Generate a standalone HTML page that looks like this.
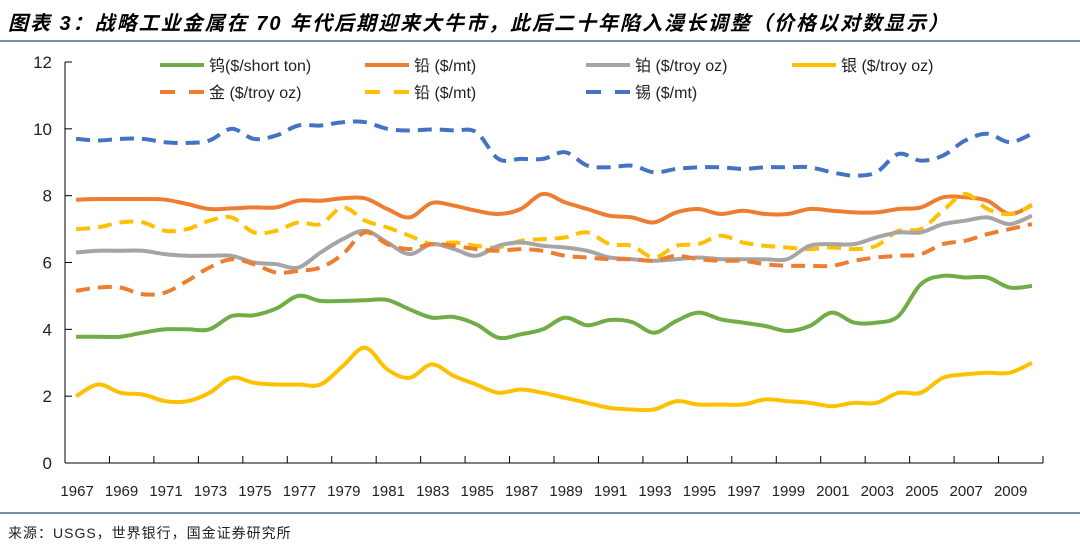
<!DOCTYPE html>
<html><head><meta charset="utf-8">
<style>
body{margin:0;background:#fff;width:1080px;height:553px;overflow:hidden;font-family:"Liberation Sans","Noto Sans CJK SC",sans-serif;}
#title{position:absolute;left:8px;top:7px;font-size:20px;letter-spacing:2px;font-weight:bold;font-style:italic;color:#000;font-family:"Liberation Sans","Noto Sans CJK SC",sans-serif;white-space:nowrap;}
#src{position:absolute;left:8px;top:523px;font-size:14px;letter-spacing:1px;color:#222;}
</style></head><body>
<div id="title">图表 3：战略工业金属在 70 年代后期迎来大牛市，此后二十年陷入漫长调整（价格以对数显示）</div>
<svg id="chart" width="1080" height="553" style="position:absolute;left:0;top:0"></svg>
<div id="src">来源：USGS，世界银行，国金证券研究所</div>
<script>
const years=[];for(let y=1967;y<=2010;y++)years.push(y);
const yTicks=[0,2,4,6,8,10,12];
const tungsten=[3.78,3.78,3.78,3.9,4.0,4.0,4.0,4.4,4.42,4.62,5.0,4.85,4.85,4.87,4.88,4.6,4.35,4.37,4.15,3.75,3.85,4.0,4.35,4.12,4.28,4.22,3.9,4.25,4.5,4.3,4.2,4.1,3.95,4.1,4.5,4.2,4.2,4.4,5.35,5.6,5.55,5.55,5.25,5.3];
const leadSolid=[7.88,7.9,7.9,7.9,7.88,7.75,7.6,7.62,7.65,7.65,7.85,7.85,7.92,7.92,7.6,7.35,7.78,7.7,7.55,7.45,7.6,8.05,7.8,7.6,7.4,7.35,7.2,7.5,7.6,7.45,7.55,7.45,7.45,7.6,7.55,7.5,7.5,7.6,7.65,7.95,7.95,7.85,7.45,7.72];
const platinum=[6.3,6.35,6.35,6.35,6.25,6.2,6.2,6.2,6.0,5.95,5.85,6.3,6.7,6.95,6.6,6.25,6.55,6.4,6.2,6.5,6.6,6.5,6.45,6.35,6.15,6.1,6.05,6.1,6.15,6.1,6.1,6.1,6.1,6.5,6.55,6.55,6.75,6.9,6.9,7.15,7.25,7.35,7.15,7.4];
const silver=[2.0,2.35,2.1,2.05,1.85,1.85,2.1,2.55,2.4,2.35,2.35,2.35,2.9,3.45,2.8,2.55,2.95,2.6,2.35,2.1,2.2,2.1,1.95,1.8,1.65,1.6,1.6,1.85,1.75,1.75,1.75,1.9,1.85,1.8,1.7,1.8,1.8,2.1,2.1,2.55,2.65,2.7,2.7,3.0];
const gold=[5.15,5.25,5.25,5.05,5.1,5.45,5.85,6.1,5.95,5.7,5.75,5.85,6.25,6.9,6.55,6.4,6.55,6.5,6.4,6.35,6.4,6.35,6.2,6.15,6.1,6.1,6.05,6.2,6.1,6.05,6.05,5.95,5.9,5.9,5.9,6.05,6.15,6.2,6.25,6.55,6.65,6.85,7.0,7.15];
const leadDashed=[7.0,7.05,7.2,7.2,6.95,7.0,7.25,7.35,6.9,6.95,7.2,7.15,7.65,7.25,7.05,6.8,6.55,6.6,6.5,6.45,6.65,6.7,6.75,6.9,6.55,6.5,6.15,6.5,6.55,6.8,6.6,6.5,6.45,6.4,6.45,6.4,6.5,6.95,7.0,7.55,8.05,7.6,7.45,7.7];
const tin=[9.7,9.65,9.7,9.7,9.6,9.58,9.65,10.0,9.7,9.8,10.1,10.1,10.2,10.2,10.0,9.95,9.98,9.95,9.9,9.1,9.1,9.1,9.3,8.9,8.85,8.9,8.7,8.8,8.85,8.85,8.8,8.85,8.85,8.85,8.7,8.6,8.7,9.25,9.05,9.2,9.65,9.85,9.6,9.85];

const NS='http://www.w3.org/2000/svg';
const svg=document.getElementById('chart');
const L=65,R=1043,T=62,B=463,band=(R-L)/years.length;
const xs=i=>L+band*(i+0.5);
const ys=v=>B-(B-T)*v/12;
function mk(tag,attrs,parent){const e=document.createElementNS(NS,tag);for(const k in attrs)e.setAttribute(k,attrs[k]);(parent||svg).appendChild(e);return e;}
function smooth(pts){
  let d='M'+pts[0][0].toFixed(1)+','+pts[0][1].toFixed(1);
  for(let i=0;i<pts.length-1;i++){
    const p0=pts[i-1]||pts[i],p1=pts[i],p2=pts[i+1],p3=pts[i+2]||p2;
    const t=0.17;
    const c1=[p1[0]+(p2[0]-p0[0])*t,p1[1]+(p2[1]-p0[1])*t];
    const c2=[p2[0]-(p3[0]-p1[0])*t,p2[1]-(p3[1]-p1[1])*t];
    d+='C'+c1[0].toFixed(1)+','+c1[1].toFixed(1)+' '+c2[0].toFixed(1)+','+c2[1].toFixed(1)+' '+p2[0].toFixed(1)+','+p2[1].toFixed(1);
  }
  return d;
}
let e;
e=mk('line',{x1:0,x2:1080,y1:41,y2:41,stroke:'#3f6f8f','stroke-width':1.5});


e=mk('line',{x1:0,x2:1080,y1:513,y2:513,stroke:'#3f6f8f','stroke-width':1.5});


e=mk('line',{x1:L,x2:L,y1:T,y2:B,stroke:'#000','stroke-width':1});


e=mk('line',{x1:L,x2:R,y1:B,y2:B,stroke:'#000','stroke-width':1});


yTicks.forEach(v=>{
  const t=mk('line',{x1:L,x2:L+7,y1:ys(v),y2:ys(v),stroke:'#000'});
  
  
  const l=mk('text',{x:L-13,y:ys(v)+6,'text-anchor':'end','font-size':17,fill:'#222'});
  l.textContent=v;
  
  
});
for(let i=0;i<=years.length;i+=2){
  const x=L+band*i;
  const t=mk('line',{x1:x,x2:x,y1:B,y2:B-7,stroke:'#000'});
  
  
}
years.forEach((y,i)=>{
  if(i%2)return;
  const l=mk('text',{x:xs(i)+1,y:496,'text-anchor':'middle','font-size':15,fill:'#222'});
  l.textContent=y;
  
  
});
const series=[
 {name:'tin',data:tin,color:'#4472c4',dash:'14 8',label:'锡 ($/mt)',lx:586,ly:92},
 {name:'lead-solid',data:leadSolid,color:'#ed7d31',dash:'',label:'铅 ($/mt)',lx:365,ly:65},
 {name:'lead-dashed',data:leadDashed,color:'#ffc000',dash:'14 8',label:'铅 ($/mt)',lx:365,ly:92},
 {name:'platinum',data:platinum,color:'#a5a5a5',dash:'',label:'铂 ($/troy oz)',lx:586,ly:65},
 {name:'gold',data:gold,color:'#ed7d31',dash:'14 8',label:'金 ($/troy oz)',lx:160,ly:92},
 {name:'tungsten',data:tungsten,color:'#70ad47',dash:'',label:'钨($/short ton)',lx:160,ly:65},
 {name:'silver',data:silver,color:'#ffc000',dash:'',label:'银 ($/troy oz)',lx:792,ly:65}
];
series.forEach(s=>{
  const pts=s.data.map((v,i)=>[xs(i),ys(v)]);
  const p=mk('path',{d:smooth(pts),fill:'none',stroke:s.color,'stroke-width':4,'stroke-linejoin':'round','stroke-dasharray':s.dash});
  
  
  const g=mk('g',{});
  
  
  mk('line',{x1:s.lx,x2:s.lx+44,y1:s.ly,y2:s.ly,stroke:s.color,'stroke-width':4,'stroke-dasharray':s.dash?'15 14':''},g);
  const t=mk('text',{x:s.lx+49,y:s.ly+6,'font-size':16,fill:'#222'},g);
  t.textContent=s.label;
});
</script>
</body></html>
